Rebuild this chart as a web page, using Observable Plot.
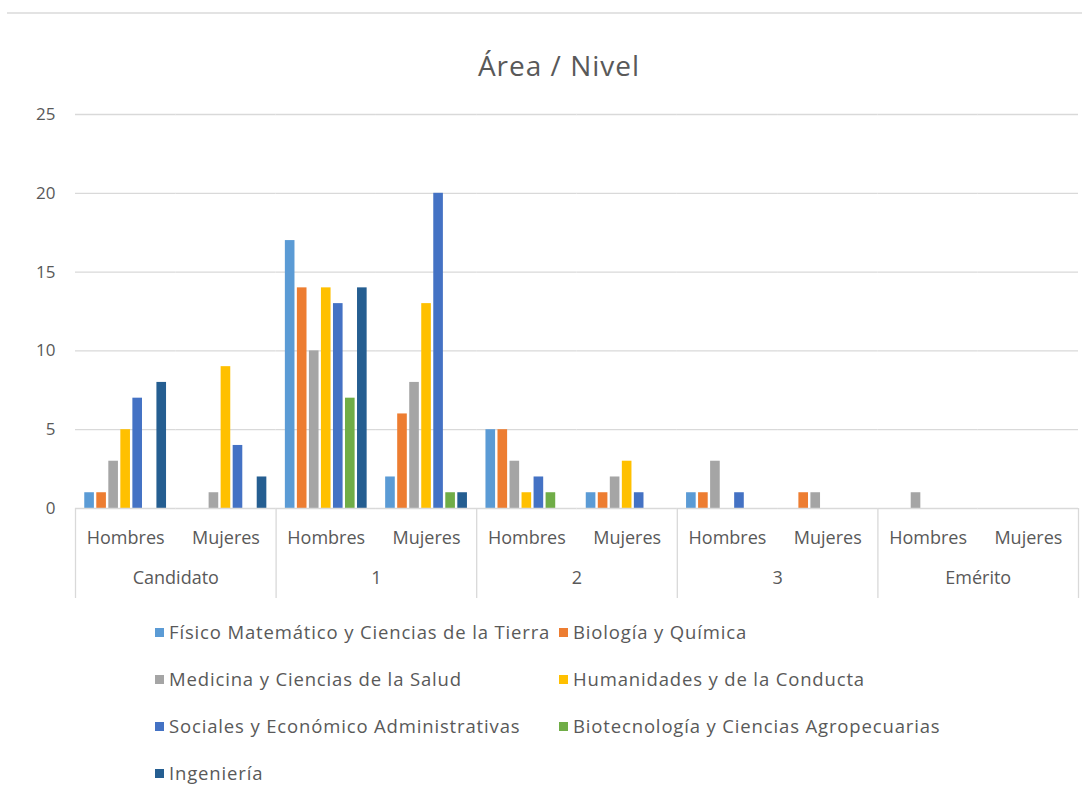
<!DOCTYPE html>
<html>
<head>
<meta charset="utf-8">
<script src="https://cdn.jsdelivr.net/npm/d3@7"></script>
<script src="https://cdn.jsdelivr.net/npm/@observablehq/plot@0.6"></script>
<style>
  html, body { margin: 0; padding: 0; background: #fff; }
  body { font-family: "Open Sans", sans-serif; color: #595959; }
  #wrap { position: relative; width: 1082px; height: 802px; overflow: hidden; }
  #topline { position: absolute; top: 12px; left: 7px; right: 0; height: 2px; background: #e3e3e3; }
  #title { position: absolute; top: 46px; left: 359px; width: 400px; text-align: center;
           font-size: 28px; letter-spacing: 1px; line-height: 38px; color: #595959; }
  #chart { position: absolute; top: 95px; left: 0; }
  #legend { position: absolute; top: 617px; left: 155px; font-size: 18.5px; letter-spacing: 0.85px; color: #595959; }
  .row { display: flex; height: 47px; align-items: flex-start; line-height: 30px; }
  .item { display: flex; align-items: center; white-space: nowrap; }
  .item.c1 { width: 404px; }
  .sw { width: 9px; height: 9px; margin-right: 5px; flex: none; }
</style>
</head>
<body>
<div id="wrap">
  <div id="topline"></div>
  <div id="title">Área / Nivel</div>
  <div id="chart"></div>
  <div id="legend"></div>
</div>
<script>
// ---- data ----
const levels = ["Candidato", "1", "2", "3", "Emérito"];
const sexes = ["Hombres", "Mujeres"];
const areas = [
  "Físico Matemático y Ciencias de la Tierra",
  "Biología y Química",
  "Medicina y Ciencias de la Salud",
  "Humanidades y de la Conducta",
  "Sociales y Económico Administrativas",
  "Biotecnología y Ciencias Agropecuarias",
  "Ingeniería"
];
const colors = ["#5B9BD5", "#ED7D31", "#A5A5A5", "#FFC000", "#4472C4", "#70AD47", "#255E91"];
// values per group: Candidato H, Candidato M, 1 H, 1 M, 2 H, 2 M, 3 H, 3 M, Emérito H, Emérito M
const fisico      = [1, 0, 17,  2, 5, 1, 1, 0, 0, 0];
const biologia    = [1, 0, 14,  6, 5, 1, 1, 1, 0, 0];
const medicina    = [3, 1, 10,  8, 3, 2, 3, 1, 1, 0];
const humanidades = [5, 9, 14, 13, 1, 3, 0, 0, 0, 0];
const sociales    = [7, 4, 13, 20, 2, 1, 1, 0, 0, 0];
const biotec      = [0, 0,  7,  1, 1, 0, 0, 0, 0, 0];
const ingenieria  = [8, 2, 14,  1, 0, 0, 0, 0, 0, 0];
const yTicks = [0, 5, 10, 15, 20, 25];

const series = [fisico, biologia, medicina, humanidades, sociales, biotec, ingenieria];
const keys = levels.flatMap(l => sexes.map(s => l + "|" + s));
const rows = [];
series.forEach((vals, ai) => vals.forEach((v, gi) => rows.push({key: keys[gi], area: areas[ai], value: v})));

// ---- chart ----
const W = 1082, H = 513, ML = 75, MR = 4, MT = 19, MB = 100;
const facetW = (W - ML - MR) / keys.length;
const frameH = H - MT - MB;
const grey = "#595959", lineC = "#d9d9d9";

const chart = Plot.plot({
  width: W, height: H,
  marginLeft: ML, marginRight: MR, marginTop: MT, marginBottom: MB,
  style: {fontFamily: "Open Sans, sans-serif", fontSize: "17px", color: grey, background: "transparent"},
  fx: {domain: keys, padding: 0, axis: null, round: false},
  x: {domain: areas, axis: null, paddingInner: 0.2, paddingOuter: 0.77, round: false},
  y: {domain: [0, 25], axis: null},
  color: {domain: areas, range: colors},
  marks: [
    Plot.gridY(yTicks.slice(1), {stroke: lineC, strokeOpacity: 1, strokeWidth: 1.3}),
    Plot.axisY(yTicks, {tickSize: 0, tickPadding: 20, fill: grey, fontSize: 17, letterSpacing: "0.5px", label: null}),
    Plot.barY(rows, {fx: "key", x: "area", y: "value", fill: "area"}),
    Plot.ruleY([0], {stroke: lineC, strokeWidth: 1.3}),
    Plot.axisFx({anchor: "bottom", tickFormat: k => k.split("|")[1], tickSize: 0, tickPadding: 23,
      fill: grey, fontSize: 18, letterSpacing: "0.6px", label: null}),
    Plot.text(levels, {fx: l => l + "|Hombres", text: d => d, frameAnchor: "bottom-right",
      dy: 70, lineAnchor: "middle", textAnchor: "middle", fill: grey, fontSize: 18, letterSpacing: "0.6px"}),
    Plot.ruleX(levels, {fx: l => l + "|Hombres", x: null, dx: -facetW / 2,
      insetTop: frameH, insetBottom: -90, stroke: lineC, strokeWidth: 1.3}),
    Plot.ruleX(["Emérito|Mujeres"], {fx: d => d, x: null, dx: facetW / 2,
      insetTop: frameH, insetBottom: -90, stroke: lineC, strokeWidth: 1.3})
  ]
});
document.getElementById("chart").appendChild(chart);

// ---- legend ----
const legend = document.getElementById("legend");
const layout = [[0, 1], [2, 3], [4, 5], [6]];
layout.forEach(r => {
  const row = document.createElement("div");
  row.className = "row";
  r.forEach((ai, j) => {
    const it = document.createElement("div");
    it.className = "item" + (j === 0 ? " c1" : "");
    const sw = document.createElement("span");
    sw.className = "sw";
    sw.style.background = colors[ai];
    const tx = document.createElement("span");
    tx.textContent = areas[ai];
    it.appendChild(sw); it.appendChild(tx);
    row.appendChild(it);
  });
  legend.appendChild(row);
});
</script>
</body>
</html>
